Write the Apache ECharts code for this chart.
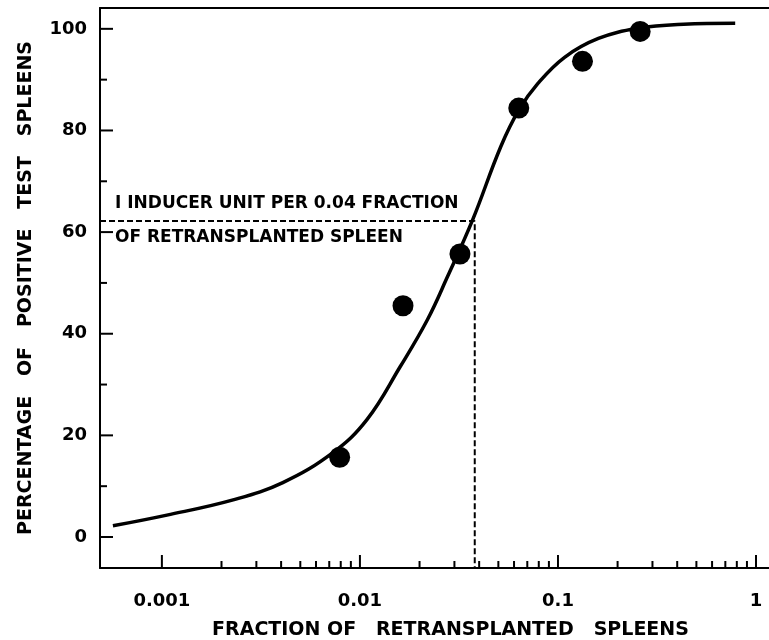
<!DOCTYPE html>
<html>
<head>
<meta charset="utf-8">
<script src="https://cdn.jsdelivr.net/npm/echarts@6/dist/echarts.min.js"></script>
<style>html,body{margin:0;padding:0;background:#fff}#c{width:769px;height:640px}</style>
</head>
<body>
<div id="c"></div>
<script>
// ---- data ----
var pointX = [0.0079, 0.0165, 0.032, 0.0634, 0.133, 0.26];
var pointY = [15.7, 45.5, 55.7, 84.4, 93.6, 99.5];
var curveX = [0.000566, 0.00106, 0.00229, 0.00408, 0.0073, 0.01085, 0.01596, 0.02188, 0.02766, 0.03707, 0.0514, 0.0634, 0.0794, 0.108, 0.160, 0.254, 0.431, 0.785];
var curveY = [2.2, 4.3, 7.3, 10.7, 16.6, 23.1, 33.5, 42.7, 51.2, 62.4, 76.8, 84.0, 89.3, 94.4, 98.1, 100.1, 100.9, 101.1];
var inducerX = 0.038;
var inducerY = 62.2;
var xTickValues = [0.001, 0.01, 0.1, 1];
var xTickLabels = ['0.001', '0.01', '0.1', '1'];
var xMinorTicks = [0.002,0.003,0.004,0.005,0.006,0.007,0.008,0.009,0.02,0.03,0.04,0.05,0.06,0.07,0.08,0.09,0.2,0.3,0.4,0.5,0.6,0.7,0.8,0.9];
var yTickValues = [0, 20, 40, 60, 80, 100];
var yMinorTicks = [10, 30, 50, 70, 90];
var xMin = 0.000487, xMax = 1.163, yMin = -6.1, yMax = 104.1;
var annotationLines = ['I INDUCER UNIT PER 0.04 FRACTION', 'OF RETRANSPLANTED SPLEEN'];

// ---- chart ----
var chart = echarts.init(document.getElementById('c'), null, {renderer: 'canvas'});
var FONT = '"DejaVu Sans", sans-serif';

function zip(a, b) { return a.map(function (v, i) { return [v, b[i]]; }); }

function tickSeries(values, axis, len) {
  return {
    type: 'custom',
    coordinateSystem: 'cartesian2d',
    clip: false,
    silent: true,
    data: values.map(function (v) { return axis === 'x' ? [v, yMin] : [xMin, v]; }),
    renderItem: function (params, api) {
      var cs = params.coordSys;
      var p = api.coord([api.value(0), api.value(1)]);
      var shape;
      if (axis === 'x') {
        var yb = cs.y + cs.height;
        shape = {x1: p[0], y1: yb, x2: p[0], y2: yb - len};
      } else {
        shape = {x1: cs.x, y1: p[1], x2: cs.x + len, y2: p[1]};
      }
      return {type: 'line', shape: shape, style: {stroke: '#000', lineWidth: 2}};
    }
  };
}

var option = {
  backgroundColor: '#fff',
  animation: false,
  grid: {left: 100, top: 8, right: 0, bottom: 72, containLabel: false, outerBoundsMode: 'none'},
  xAxis: [{
    type: 'log',
    logBase: 10,
    min: xMin,
    max: xMax,
    axisLine: {show: true, onZero: false, lineStyle: {color: '#000', width: 2}},
    axisTick: {show: false},
    splitLine: {show: false},
    axisLabel: {
      margin: 24,
      color: '#000',
      fontFamily: FONT,
      fontWeight: 'bold',
      fontSize: 18,
      showMinLabel: true,
      showMaxLabel: true,
      formatter: function (v) {
        var e = Math.log10(v);
        var r = Math.round(e);
        if (Math.abs(e - r) < 1e-6) {
          var idx = xTickValues.findIndex(function (t) { return Math.abs(Math.log10(t) - r) < 1e-6; });
          if (idx >= 0) return xTickLabels[idx];
        }
        return '';
      }
    },
    name: 'FRACTION OF   RETRANSPLANTED   SPLEENS',
    nameLocation: 'middle',
    nameGap: 53,
    nameTextStyle: {color: '#000', fontFamily: FONT, fontWeight: 'bold', fontSize: 19, padding: [0, 0, 0, 32]}
  }, {
    type: 'value',
    position: 'top',
    min: 0, max: 1,
    axisLine: {show: true, onZero: false, lineStyle: {color: '#000', width: 2}},
    axisTick: {show: false},
    axisLabel: {show: false},
    splitLine: {show: false}
  }],
  yAxis: {
    type: 'value',
    min: yMin,
    max: yMax,
    axisLine: {show: true, onZero: false, lineStyle: {color: '#000', width: 2}},
    axisTick: {show: false},
    splitLine: {show: false},
    axisLabel: {
      margin: 13,
      color: '#000',
      fontFamily: FONT,
      fontWeight: 'bold',
      fontSize: 18,
      formatter: function (v) {
        return yTickValues.indexOf(v) >= 0 ? String(v) : '';
      }
    },
    name: 'PERCENTAGE   OF   POSITIVE   TEST   SPLEENS',
    nameLocation: 'middle',
    nameGap: 64,
    nameRotate: 90,
    nameTextStyle: {color: '#000', fontFamily: FONT, fontWeight: 'bold', fontSize: 19}
  },
  graphic: annotationLines.map(function (t, i) {
    return {
      type: 'text',
      x: 115,
      y: i === 0 ? 204 : 238,
      style: {text: t, font: 'bold 17px "DejaVu Sans", sans-serif', fill: '#000', verticalAlign: 'middle'}
    };
  }),
  series: [
    tickSeries(xTickValues, 'x', 13),
    tickSeries(xMinorTicks, 'x', 7),
    tickSeries(yTickValues, 'y', 13),
    tickSeries(yMinorTicks, 'y', 7),
    {
      type: 'line',
      data: [[xMin, inducerY], [inducerX, inducerY], [inducerX, yMin]],
      symbol: 'none',
      silent: true,
      lineStyle: {color: '#000', width: 2, type: [6, 3]}
    },
    {
      type: 'line',
      data: zip(curveX, curveY),
      symbol: 'none',
      smooth: 0.4,
      silent: true,
      lineStyle: {color: '#000', width: 3.5}
    },
    {
      type: 'scatter',
      data: zip(pointX, pointY),
      symbol: 'circle',
      symbolSize: 21,
      itemStyle: {color: '#000', opacity: 1}
    }
  ]
};
chart.setOption(option);
</script>
</body>
</html>
